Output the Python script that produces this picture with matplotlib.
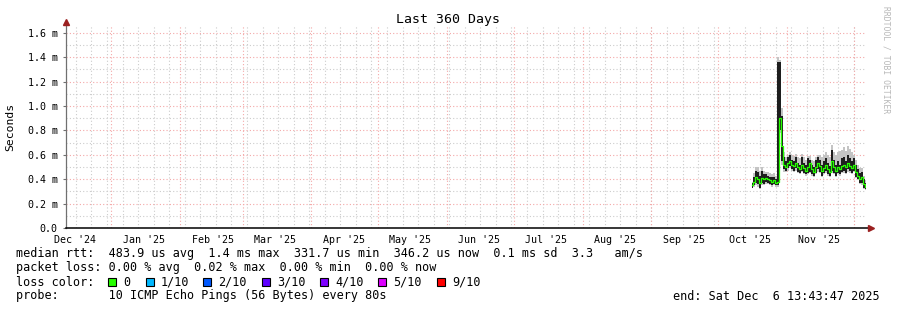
import numpy as np
import pandas as pd
import matplotlib
matplotlib.use("Agg")
from matplotlib import pyplot as plt
import matplotlib.dates as mdates
from matplotlib.patches import Rectangle

plt.rcParams['font.family'] = ['DejaVu Sans Mono']

# time range of the graph (360 days)
t_start = pd.Timestamp("2024-12-11 13:43:47")
t_end = pd.Timestamp("2025-12-06 13:43:47")

# ping data in ms, one sample every ~0.9 day from mid October
median = [0.35, 0.38, 0.42, 0.40, 0.37, 0.41, 0.40, 0.41, 0.40, 0.39,
          0.38, 0.39, 0.37, 0.38, 0.90, 0.67, 0.52, 0.50, 0.53, 0.55,
          0.52, 0.51, 0.53, 0.50, 0.48, 0.52, 0.49, 0.47, 0.50, 0.53,
          0.48, 0.46, 0.50, 0.53, 0.51, 0.47, 0.49, 0.52, 0.48, 0.46,
          0.55, 0.50, 0.47, 0.50, 0.48, 0.51, 0.52, 0.50, 0.53, 0.51,
          0.49, 0.52, 0.46, 0.43, 0.40, 0.42, 0.36, 0.34]
dark_lo = [0.33, 0.35, 0.37, 0.36, 0.33, 0.37, 0.36, 0.38, 0.37, 0.36,
           0.35, 0.36, 0.35, 0.35, 0.80, 0.55, 0.48, 0.47, 0.49, 0.51,
           0.48, 0.47, 0.49, 0.46, 0.45, 0.47, 0.45, 0.44, 0.45, 0.46,
           0.44, 0.43, 0.45, 0.48, 0.46, 0.43, 0.45, 0.47, 0.44, 0.43,
           0.47, 0.45, 0.43, 0.45, 0.44, 0.46, 0.47, 0.45, 0.48, 0.47,
           0.45, 0.47, 0.42, 0.40, 0.37, 0.37, 0.33, 0.32]
dark_hi = [0.37, 0.42, 0.47, 0.46, 0.43, 0.47, 0.44, 0.44, 0.43, 0.42,
           0.42, 0.42, 0.40, 1.36, 1.36, 0.92, 0.58, 0.55, 0.58, 0.60,
           0.56, 0.55, 0.58, 0.53, 0.52, 0.58, 0.53, 0.52, 0.57, 0.56,
           0.52, 0.50, 0.56, 0.58, 0.56, 0.52, 0.55, 0.57, 0.53, 0.51,
           0.64, 0.56, 0.52, 0.55, 0.52, 0.57, 0.58, 0.55, 0.60, 0.57,
           0.55, 0.57, 0.52, 0.48, 0.45, 0.46, 0.40, 0.37]
smoke_lo = [0.33, 0.34, 0.35, 0.34, 0.32, 0.35, 0.35, 0.36, 0.36, 0.35,
            0.34, 0.35, 0.34, 0.34, 0.78, 0.52, 0.46, 0.46, 0.47, 0.49,
            0.47, 0.46, 0.47, 0.45, 0.44, 0.46, 0.44, 0.43, 0.44, 0.45,
            0.43, 0.42, 0.44, 0.46, 0.45, 0.42, 0.44, 0.45, 0.43, 0.42,
            0.45, 0.44, 0.42, 0.44, 0.43, 0.45, 0.45, 0.44, 0.46, 0.45,
            0.44, 0.46, 0.41, 0.39, 0.36, 0.35, 0.32, 0.31]
smoke_hi = [0.38, 0.45, 0.50, 0.50, 0.47, 0.50, 0.47, 0.46, 0.46, 0.45,
            0.44, 0.45, 0.43, 1.40, 1.38, 0.98, 0.62, 0.58, 0.60, 0.62,
            0.60, 0.59, 0.61, 0.58, 0.57, 0.61, 0.58, 0.56, 0.59, 0.59,
            0.56, 0.55, 0.58, 0.60, 0.60, 0.58, 0.60, 0.62, 0.60, 0.58,
            0.68, 0.62, 0.60, 0.62, 0.63, 0.64, 0.66, 0.63, 0.67, 0.65,
            0.62, 0.60, 0.56, 0.52, 0.49, 0.49, 0.43, 0.39]
times = pd.date_range("2025-10-16 06:00", periods=len(median), freq="1296min")

y_ticks = [0.0, 0.2, 0.4, 0.6, 0.8, 1.0, 1.2, 1.4, 1.6]

loss_labels = ["0", "1/10", "2/10", "3/10", "4/10", "5/10", "9/10"]
loss_colors = ["#26ff00", "#00b8ff", "#0059ff", "#5e00ff", "#7e00ff", "#dd00ff", "#ff0000"]

grid_red = "#f4a8a8"
grid_gray = "#cccccc"
arrow_col = "#9b2020"

fig = plt.figure(figsize=(8.97, 3.10), dpi=100)
ax = fig.add_axes([66 / 897, 82 / 310, 800 / 897, 202 / 310])

x0 = mdates.date2num(t_start)
x1 = mdates.date2num(t_end)
ax.set_xlim(x0, x1)
ax.set_ylim(0, 1.656)

# grid: weekly gray, monthly red; 0.1 gray, 0.2 red
dash = (0, (1, 2))
for d in pd.date_range("2024-12-16", t_end, freq="7D"):
    ax.axvline(mdates.date2num(d), color=grid_gray, lw=0.8, ls=dash, zorder=0)
for d in pd.date_range("2025-01-01", t_end, freq="MS"):
    ax.axvline(mdates.date2num(d), color=grid_red, lw=0.8, ls=dash, zorder=0)
for v in np.arange(0.1, 1.66, 0.2):
    ax.axhline(v, color=grid_gray, lw=0.8, ls=dash, zorder=0)
for v in y_ticks[1:]:
    ax.axhline(v, color=grid_red, lw=0.8, ls=dash, zorder=0)

tn = mdates.date2num(times)
ax.fill_between(tn, smoke_lo, smoke_hi, color="#c4c4c4", lw=0, step="mid", zorder=2)
ax.fill_between(tn, dark_lo, dark_hi, color="#1e1e1e", lw=0, step="mid", zorder=3)
ax.step(tn, median, where="mid", color=loss_colors[0], lw=0.9, zorder=4)

# axes look
for s in ["top", "right", "bottom"]:
    ax.spines[s].set_visible(False)
ax.spines["left"].set_color("#707070")
ax.spines["left"].set_linewidth(0.9)
ax.plot([x0, x1 + 2.3], [0, 0], color="black", lw=1.1, clip_on=False, zorder=5)
ax.plot([x1 + 2.3], [0], marker=">", color=arrow_col, ms=4, clip_on=False, zorder=6)
ax.plot([x0], [1.69], marker="^", color=arrow_col, ms=4, clip_on=False, zorder=6)

ax.set_yticks(y_ticks)
ax.set_yticklabels(["0.0" if v == 0 else f"{v:.1f} m" for v in y_ticks])
mid_months = pd.date_range("2024-12-01", "2025-11-30", freq="MS") + pd.Timedelta(days=14, hours=12)
ax.set_xticks(mdates.date2num(mid_months))
ax.set_xticklabels([d.strftime("%b '%y") for d in mid_months])
ax.tick_params(axis="y", length=2, width=0.8, color="#707070", pad=4, labelsize=7.2)
ax.tick_params(axis="x", length=0, pad=5, labelsize=7.2)

ax.set_ylabel("Seconds", fontsize=8.2)
ax.yaxis.set_label_coords(-0.064, 0.5)
fig.text(448 / 897, 1 - 19 / 310, "Last 360 Days", ha="center", va="center", fontsize=9.5)
fig.text(886 / 897, 1 - 60 / 310, "RRDTOOL / TOBI OETIKER", ha="center", va="center",
         rotation=270, fontsize=5.8, color="#b8b8b8")

# legend rows
fs = 8.5
lx = 16 / 897
fig.text(lx, 1 - 254 / 310,
         "median rtt:  483.9 us avg  1.4 ms max  331.7 us min  346.2 us now  0.1 ms sd  3.3   am/s",
         va="center", fontsize=fs)
fig.text(lx, 1 - 268 / 310,
         "packet loss: 0.00 % avg  0.02 % max  0.00 % min  0.00 % now",
         va="center", fontsize=fs)
fig.text(lx, 1 - 282 / 310, "loss color:", va="center", fontsize=fs)
box_x = [108, 146, 203, 262, 320, 378, 437]
for bx, lab, col in zip(box_x, loss_labels, loss_colors):
    fig.patches.append(Rectangle((bx / 897, 1 - 286 / 310), 8 / 897, 8 / 310,
                                 transform=fig.transFigure, facecolor=col,
                                 edgecolor="black", lw=0.8))
    fig.text((bx + 15) / 897, 1 - 282 / 310, lab, va="center", fontsize=fs)
fig.text(lx, 1 - 296 / 310, "probe:       10 ICMP Echo Pings (56 Bytes) every 80s",
         va="center", fontsize=fs)
fig.text(880 / 897, 1 - 296 / 310, "end: Sat Dec  6 13:43:47 2025",
         ha="right", va="center", fontsize=fs)

fig.savefig("out.png", dpi=100)
